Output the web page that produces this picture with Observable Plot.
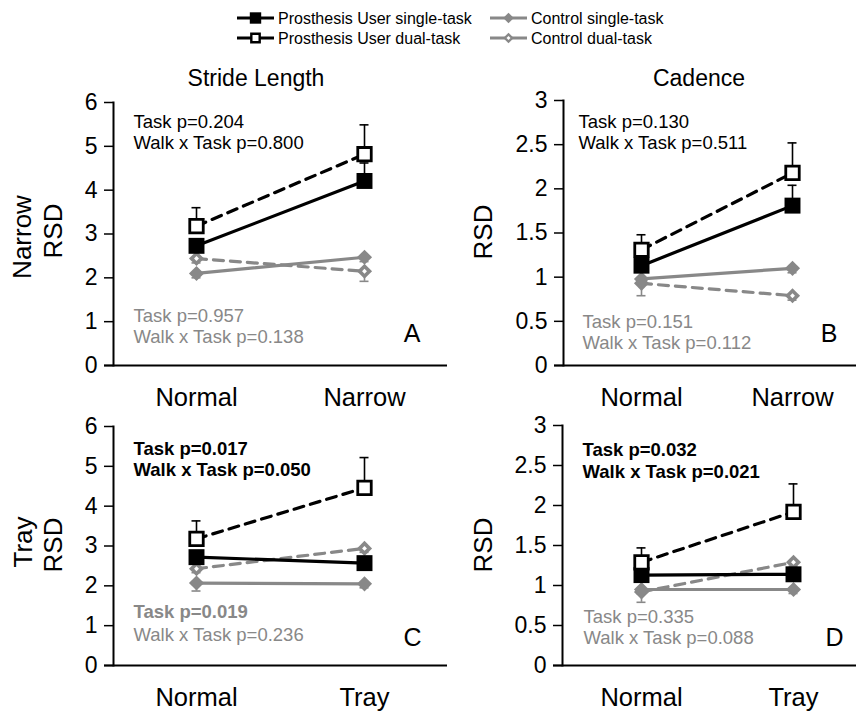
<!DOCTYPE html>
<html><head><meta charset="utf-8">
<script src="https://cdn.jsdelivr.net/npm/d3@7"></script>
<script src="https://cdn.jsdelivr.net/npm/@observablehq/plot@0.6"></script>
<style>
body{margin:0;background:#fff;font-family:"Liberation Sans",Arial,sans-serif;}
#root{position:relative;width:856px;height:711px;overflow:hidden;background:#fff;}
.lab{position:absolute;white-space:nowrap;line-height:1;color:#000;}
.rot{transform:translate(-50%,-50%) rotate(-90deg);}
.cen{transform:translate(-50%,-50%);}
</style></head><body><div id="root"></div>
<script>
// ---------- data ----------
const seriesNames = ["Prosthesis User single-task","Prosthesis User dual-task","Control single-task","Control dual-task"];
const errorSide = [1, 1, -1, -1];           // error bar drawn up (+1) or down (-1)
const narrowCats = ["Normal", "Narrow"];
const trayCats = ["Normal", "Tray"];
const columnTitles = ["Stride Length", "Cadence"];
const rowLabels = ["Narrow", "Tray"];
const yLabel = "RSD";
const strideTicks = [0, 1, 2, 3, 4, 5, 6];
const cadenceTicks = [0, 0.5, 1, 1.5, 2, 2.5, 3];

// rows: PU single, PU dual, Control single, Control dual ; columns: walking condition
const strideNarrowMean = [[2.73, 4.21], [3.18, 4.82], [2.10, 2.47], [2.44, 2.15]];
const strideNarrowErr  = [[0.15, 0.41], [0.42, 0.67], [0.10, 0.10], [0.10, 0.23]];
const cadenceNarrowMean = [[1.13, 1.81], [1.31, 2.18], [0.98, 1.10], [0.93, 0.79]];
const cadenceNarrowErr  = [[0.05, 0.23], [0.17, 0.34], [0.05, 0.05], [0.14, 0.05]];
const strideTrayMean = [[2.72, 2.57], [3.18, 4.46], [2.07, 2.05], [2.43, 2.94]];
const strideTrayErr  = [[0.12, 0.12], [0.45, 0.76], [0.20, 0.10], [0.10, 0.10]];
const cadenceTrayMean = [[1.13, 1.14], [1.29, 1.92], [0.95, 0.95], [0.92, 1.29]];
const cadenceTrayErr  = [[0.05, 0.05], [0.18, 0.35], [0.05, 0.05], [0.13, 0.05]];

// statistics text: [prosthesis users lines, control lines]
const statsA = [["Task p=0.204", "Walk x Task p=0.800"], ["Task p=0.957", "Walk x Task p=0.138"]];
const boldA  = [[false, false], [false, false]];
const statsB = [["Task p=0.130", "Walk x Task p=0.511"], ["Task p=0.151", "Walk x Task p=0.112"]];
const boldB  = [[false, false], [false, false]];
const statsC = [["Task p=0.017", "Walk x Task p=0.050"], ["Task p=0.019", "Walk x Task p=0.236"]];
const boldC  = [[true, true], [true, false]];
const statsD = [["Task p=0.032", "Walk x Task p=0.021"], ["Task p=0.335", "Walk x Task p=0.088"]];
const boldD  = [[true, true], [false, false]];
const panelLetters = ["A", "B", "C", "D"];

// ---------- styles ----------
const GRAY = "#888888";
const seriesStyle = [
  {color: "#000", dash: null,   symbol: "square",   fill: "#000", r: 9,   sw: 0,   inner: 0},
  {color: "#000", dash: "10,7", symbol: "square",   fill: "#fff", r: 7.6, sw: 2.8, inner: 0},
  {color: GRAY,   dash: null,   symbol: "diamond2", fill: GRAY,   r: 6.8, sw: 0,   inner: 0},
  {color: GRAY,   dash: "10,7", symbol: "diamond2", fill: GRAY,   r: 6.8, sw: 0,   inner: 2.2}
];
const drawOrder = [3, 2, 0, 1];
const FONT = "'Liberation Sans', Arial, Helvetica, sans-serif";
const root = document.getElementById("root");

function makePanel(c) {
  const rows = [];
  c.mean.forEach((vals, s) => vals.forEach((v, i) =>
    rows.push({s, cond: c.cats[i], mean: v, end: v + errorSide[s] * c.err[s][i]})));
  const marks = [
    Plot.ruleY([0], {insetLeft: -9, strokeWidth: 2}),
    Plot.frame({anchor: "left", strokeWidth: 2}),
    Plot.axisY({ticks: c.ticks, tickSize: 9, tickPadding: 7, fontSize: 23, strokeWidth: 1.5, tickFormat: d => String(d)}),
    Plot.axisX({tickSize: 0, tickPadding: 22, fontSize: 25.5})
  ];
  for (const s of drawOrder) {
    const st = seriesStyle[s];
    const d = rows.filter(r => r.s === s);
    marks.push(Plot.ruleX(d, {x: "cond", y1: "mean", y2: "end", stroke: st.color, strokeWidth: 1.6}));
    marks.push(Plot.ruleY(d, {y: "end", x1: "cond", x2: "cond", insetLeft: -4.5, insetRight: -4.5, stroke: st.color, strokeWidth: 1.6}));
    marks.push(Plot.line(d, {x: "cond", y: "mean", stroke: st.color, strokeWidth: 3.2, strokeDasharray: st.dash}));
    marks.push(Plot.dot(d, {x: "cond", y: "mean", symbol: st.symbol, r: st.r, fill: st.fill, stroke: st.sw ? st.color : "none", strokeWidth: st.sw}));
    if (st.inner) marks.push(Plot.dot(d, {x: "cond", y: "mean", symbol: st.symbol, r: st.inner, fill: "#fff", stroke: "none"}));
  }
  [0, 1].forEach(g => [0, 1].forEach(l => {
    const top = g === 0;
    marks.push(Plot.text([c.stats[g][l]], {
      frameAnchor: top ? "top-left" : "bottom-left",
      dx: top ? c.tdx : c.bdx, dy: top ? c.tdy[l] : c.bdy[l],
      textAnchor: "start", lineAnchor: "middle", fontSize: 18.5,
      fill: top ? "#000" : GRAY, fontWeight: c.bold[g][l] ? "bold" : "normal"
    }));
  }));
  marks.push(Plot.text([c.letter], {frameAnchor: "bottom-right", dx: c.ldx, dy: c.ldy, textAnchor: "end", lineAnchor: "middle", fontSize: 25, fill: "#000"}));
  const svg = Plot.plot({
    width: c.width, height: c.height,
    marginLeft: c.ml, marginRight: 0, marginTop: c.mt, marginBottom: c.mb,
    x: {type: "point", domain: c.cats, padding: c.pad, align: c.align, label: null},
    y: {domain: [0, c.ticks[c.ticks.length - 1]], label: null},
    style: {fontFamily: FONT, background: "transparent", overflow: "visible", color: "#000"},
    marks
  });
  svg.style.position = "absolute";
  svg.style.left = c.left + "px";
  svg.style.top = c.top + "px";
  svg.style.maxWidth = "none";
  root.appendChild(svg);
}

makePanel({cats: narrowCats, mean: strideNarrowMean, err: strideNarrowErr, ticks: strideTicks,
  stats: statsA, bold: boldA, letter: panelLetters[0],
  left: 0, top: 50, width: 447, height: 360, ml: 113, mt: 52, mb: 45, pad: 0.494, align: 0.5,
  tdx: 20, tdy: [20, 41], bdx: 20, bdy: [-49, -28], ldx: -27, ldy: -32});
makePanel({cats: narrowCats, mean: cadenceNarrowMean, err: cadenceNarrowErr, ticks: cadenceTicks,
  stats: statsB, bold: boldB, letter: panelLetters[1],
  left: 447, top: 50, width: 409, height: 360, ml: 116, mt: 50, mb: 45, pad: 0.47, align: 0.549,
  tdx: 15, tdy: [22, 43], bdx: 19, bdy: [-43, -22], ldx: -19, ldy: -32});
makePanel({cats: trayCats, mean: strideTrayMean, err: strideTrayErr, ticks: strideTicks,
  stats: statsC, bold: boldC, letter: panelLetters[2],
  left: 0, top: 410, width: 447, height: 301, ml: 113, mt: 16, mb: 46, pad: 0.494, align: 0.5,
  tdx: 20, tdy: [23, 44], bdx: 20, bdy: [-53, -30], ldx: -26, ldy: -28});
makePanel({cats: trayCats, mean: cadenceTrayMean, err: cadenceTrayErr, ticks: cadenceTicks,
  stats: statsD, bold: boldD, letter: panelLetters[3],
  left: 447, top: 410, width: 409, height: 301, ml: 115, mt: 15, mb: 46, pad: 0.467, align: 0.556,
  tdx: 20, tdy: [25, 47], bdx: 21, bdy: [-48, -27], ldx: -13, ldy: -28});

// ---------- text labels ----------
function label(text, x, y, size, rotate) {
  const d = document.createElement("div");
  d.className = "lab " + (rotate ? "rot" : "cen");
  d.textContent = text;
  d.style.left = x + "px"; d.style.top = y + "px"; d.style.fontSize = size + "px";
  root.appendChild(d);
}
label(columnTitles[0], 256, 78, 23, false);
label(columnTitles[1], 699, 78, 23, false);
label(rowLabels[0], 22, 237, 26, true);
label(yLabel, 53, 231, 26, true);
label(yLabel, 483, 232, 26, true);
label(rowLabels[1], 23, 542, 26, true);
label(yLabel, 53, 545, 26, true);
label(yLabel, 483, 545, 26, true);

// ---------- legend ----------
const legendPos = [[237, 18], [237, 38], [490, 18], [490, 38]];
const leg = d3.select(root).append("svg").attr("width", 856).attr("height", 50)
  .style("position", "absolute").style("left", "0px").style("top", "0px");
seriesNames.forEach((name, s) => {
  const [x, y] = legendPos[s];
  const st = seriesStyle[s];
  const g = leg.append("g").attr("transform", `translate(${x},${y})`);
  g.append("line").attr("x1", 0).attr("x2", 37).attr("y1", 0).attr("y2", 0)
    .attr("stroke", st.color).attr("stroke-width", 3);
  const isSq = st.symbol === "square";
  const size = isSq ? (s === 0 ? 130 : 70) : 55;
  g.append("path").attr("d", d3.symbol().type(d3.symbolSquare).size(size)())
    .attr("transform", `translate(18.5,0) rotate(${isSq ? 0 : 45})`)
    .attr("fill", st.fill).attr("stroke", st.sw ? st.color : "none").attr("stroke-width", st.sw ? 2.4 : 0);
  if (st.inner) g.append("path").attr("d", d3.symbol().type(d3.symbolSquare).size(8)())
    .attr("transform", "translate(18.5,0) rotate(45)").attr("fill", "#fff");
  g.append("text").attr("x", 41).attr("y", 5.5).attr("font-size", 16).attr("font-family", FONT)
    .attr("fill", "#000").text(name);
});
</script></body></html>
